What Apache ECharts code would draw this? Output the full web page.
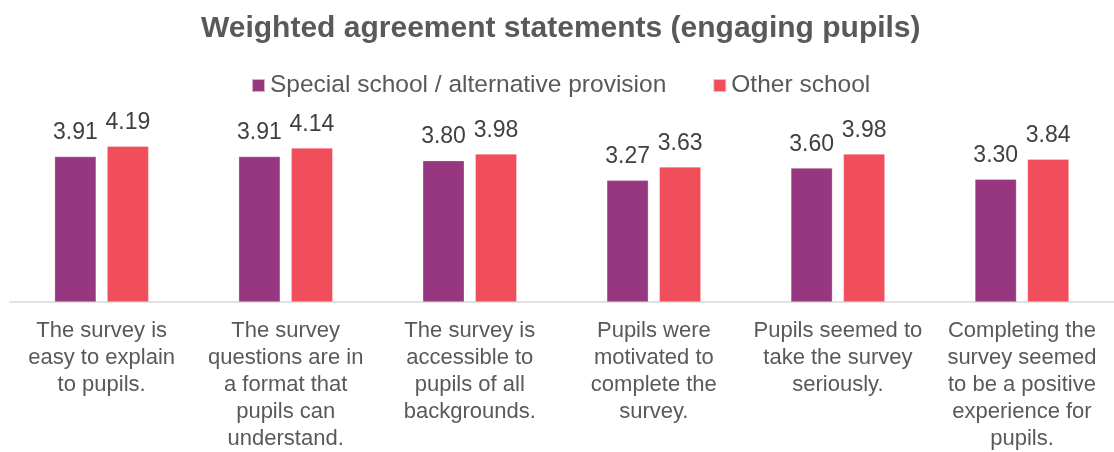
<!DOCTYPE html>
<html>
<head>
<meta charset="utf-8">
<script src="https://cdn.jsdelivr.net/npm/echarts@6/dist/echarts.min.js"></script>
<style>
  html, body { margin: 0; padding: 0; background: #ffffff; }
  #chart { width: 1114px; height: 452px; }
</style>
</head>
<body>
<div id="chart"></div>
<script>
// Agreement statements about engaging pupils, one group of bars per statement
const categories = [
  'The survey is\neasy to explain\nto pupils.',
  'The survey\nquestions are in\na format that\npupils can\nunderstand.',
  'The survey is\naccessible to\npupils of all\nbackgrounds.',
  'Pupils were\nmotivated to\ncomplete the\nsurvey.',
  'Pupils seemed to\ntake the survey\nseriously.',
  'Completing the\nsurvey seemed\nto be a positive\nexperience for\npupils.'
];
const seriesNames = ['Special school / alternative provision', 'Other school'];
const specialSchool = [3.91, 3.91, 3.80, 3.27, 3.60, 3.30];
const otherSchool = [4.19, 4.14, 3.98, 3.63, 3.98, 3.84];

const FONT = '"Liberation Sans", Arial, sans-serif';
const colors = ['#97377F', '#F04E5A'];

const chart = echarts.init(document.getElementById('chart'), null, { renderer: 'canvas' });

const labelStyle = {
  show: true,
  position: 'top',
  distance: 12,
  fontFamily: FONT,
  fontSize: 23,
  color: '#404040',
  formatter: p => p.value.toFixed(2)
};

chart.setOption({
  animation: false,
  backgroundColor: '#ffffff',
  color: colors,
  title: {
    text: 'Weighted agreement statements (engaging pupils)',
    left: 201,
    top: 14,
    padding: 0,
    textStyle: { fontFamily: FONT, fontSize: 30, fontWeight: 'bold', color: '#595959' }
  },
  legend: {
    top: 73,
    left: 251,
    padding: 0,
    itemWidth: 13,
    itemHeight: 13,
    itemGap: 46,
    icon: 'rect',
    textStyle: { fontFamily: FONT, fontSize: 24.5, color: '#595959' },
    data: seriesNames
  },
  grid: { left: 9.6, width: 1115, top: 116, bottom: 148.7, containLabel: false },
  xAxis: {
    type: 'category',
    data: categories,
    axisLine: { show: true, lineStyle: { color: '#D9D9D9', width: 1.5 } },
    axisTick: { show: false },
    axisLabel: {
      interval: 0,
      margin: 15,
      fontFamily: FONT,
      fontSize: 22,
      lineHeight: 27,
      color: '#595959',
      align: 'center'
    }
  },
  yAxis: {
    type: 'value',
    min: 0,
    max: 5,
    show: false,
    splitLine: { show: false }
  },
  series: [
    {
      name: seriesNames[0],
      type: 'bar',
      data: specialSchool,
      barWidth: 41.5,
      barGap: '26.5%',
      itemStyle: { color: colors[0], borderColor: 'rgba(255,255,255,0.6)', borderWidth: 0.5 },
      label: labelStyle
    },
    {
      name: seriesNames[1],
      type: 'bar',
      data: otherSchool,
      barWidth: 41.5,
      itemStyle: { color: colors[1], borderColor: 'rgba(255,255,255,0.6)', borderWidth: 0.5 },
      label: labelStyle
    }
  ]
});
</script>
</body>
</html>
